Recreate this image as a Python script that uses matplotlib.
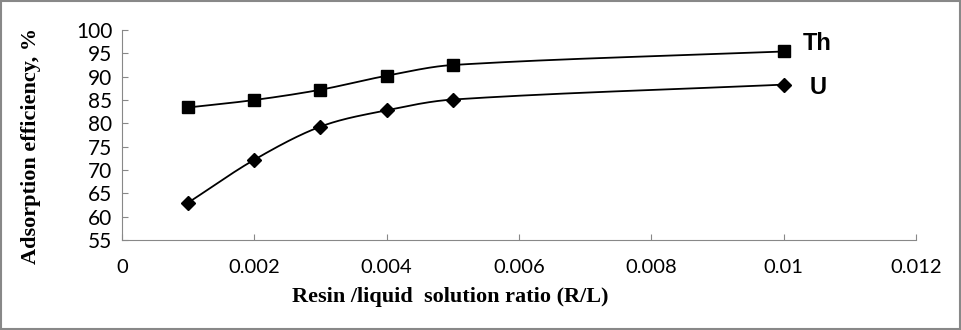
import numpy as np
import matplotlib
matplotlib.use("Agg")
import matplotlib.pyplot as plt
from matplotlib.patches import Rectangle

# resin/liquid ratio and adsorption efficiency (%)
ratio = [0.001, 0.002, 0.003, 0.004, 0.005, 0.01]
th_eff = [83.4, 85.0, 87.2, 90.2, 92.5, 95.4]
u_eff = [63.0, 72.2, 79.3, 82.8, 85.1, 88.3]


def smooth(x, y, n=40):
    # cubic Hermite curve through the points, slopes from neighbouring points
    x = np.asarray(x, float)
    y = np.asarray(y, float)
    m = np.empty_like(y)
    m[1:-1] = (y[2:] - y[:-2]) / (x[2:] - x[:-2])
    m[0] = (y[1] - y[0]) / (x[1] - x[0])
    m[-1] = (y[-1] - y[-2]) / (x[-1] - x[-2])
    xs, ys = [], []
    t = np.linspace(0, 1, n)
    for i in range(len(x) - 1):
        h = x[i + 1] - x[i]
        h00 = 2 * t ** 3 - 3 * t ** 2 + 1
        h10 = t ** 3 - 2 * t ** 2 + t
        h01 = -2 * t ** 3 + 3 * t ** 2
        h11 = t ** 3 - t ** 2
        xs.extend(x[i] + t * h)
        ys.extend(h00 * y[i] + h10 * h * m[i] + h01 * y[i + 1] + h11 * h * m[i + 1])
    return xs, ys


fig = plt.figure(figsize=(9.62, 3.30), dpi=100)
ax = fig.add_axes([0.1268, 0.2727, 0.8254, 0.6364])

sx, sy = smooth(ratio, th_eff)
ax.plot(sx, sy, color="black", lw=1.3)
ax.plot(ratio, th_eff, "s", color="black", ms=8)
sx, sy = smooth(ratio, u_eff)
ax.plot(sx, sy, color="black", lw=1.3)
ax.plot(ratio, u_eff, "D", color="black", ms=7)

ax.set_xlim(0, 0.012)
ax.set_ylim(55, 100)
ax.set_xticks([0, 0.002, 0.004, 0.006, 0.008, 0.01, 0.012])
ax.set_xticklabels(["0", "0.002", "0.004", "0.006", "0.008", "0.01", "0.012"])
ax.set_yticks(range(55, 101, 5))

for s in ["top", "right"]:
    ax.spines[s].set_visible(False)
for s in ["left", "bottom"]:
    ax.spines[s].set_color("#888888")
ax.tick_params(axis="x", direction="in", length=4, color="#888888", pad=14,
               labelsize=14.5)
ax.tick_params(axis="y", direction="in", length=4, color="#888888", pad=7,
               labelsize=15)
for lab in ax.get_xticklabels() + ax.get_yticklabels():
    lab.set_fontfamily("Lato")

ax.set_xlabel("Resin /liquid  solution ratio (R/L)", fontfamily="Liberation Serif",
              fontweight="bold", fontsize=16)
ax.set_ylabel("Adsorption efficiency, %", fontfamily="Liberation Serif",
              fontweight="bold", fontsize=16)
ax.xaxis.set_label_coords(0.413, -0.225)
ax.yaxis.set_label_coords(-0.102, 0.45)

ax.text(0.01029, 97.2, "Th", fontfamily="Liberation Sans", fontweight="bold",
        fontsize=17, va="center")
ax.text(0.01039, 87.6, "U", fontfamily="Liberation Sans", fontweight="bold",
        fontsize=17, va="center")

fig.patches.append(Rectangle((0.001, 0.002), 0.997, 0.995, transform=fig.transFigure,
                             fill=False, edgecolor="#888888", lw=1.5))

fig.savefig("out.png", dpi=100)
